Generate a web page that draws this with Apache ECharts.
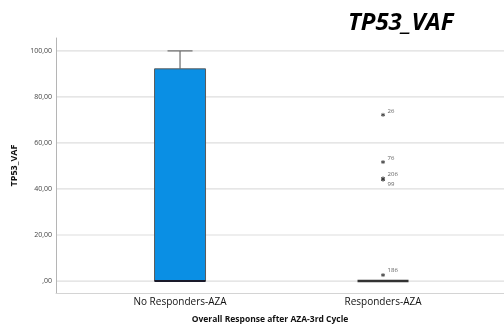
<!DOCTYPE html>
<html>
<head>
<meta charset="utf-8">
<script src="https://cdn.jsdelivr.net/npm/echarts@6/dist/echarts.min.js"></script>
<style>
  html, body { margin: 0; padding: 0; background: #fff; }
  #chart { width: 504px; height: 331px; }
</style>
</head>
<body>
<div id="chart"></div>
<script>
// Groups on the x axis (placed at positions 0 and 1)
var categories = ['No Responders-AZA', 'Responders-AZA'];
// Five-number summaries per group: [min, Q1, median, Q3, max]
var boxMin = [0, 0];
var boxQ1 = [0, 0];
var boxMedian = [0, 0];
var boxQ3 = [92.2, 0];
var boxMax = [100, 0];
// Extreme values for the Responders group, with their case numbers
var outlierGroup = [1, 1, 1, 1, 1];
var outlierValues = [72.2, 51.7, 44.6, 44.0, 2.6];
var outlierIds = ['26', '76', '206', '99', '186'];
// Y axis tick values
var yTicks = [0, 20, 40, 60, 80, 100];

var boxData = categories.map(function (c, i) {
  return [i, boxMin[i], boxQ1[i], boxMedian[i], boxQ3[i], boxMax[i]];
});
var outlierData = outlierValues.map(function (v, i) {
  return [outlierGroup[i], v, outlierIds[i]];
});

function fmtTick(v) {
  var s = v.toFixed(2).replace('.', ',');
  return s.indexOf('0,') === 0 ? s.slice(1) : s;
}

var labelPos = {
  '26': { position: 'right', offset: [-5, -4] },
  '76': { position: 'right', offset: [-5, -4] },
  '206': { position: 'right', offset: [-5, -4] },
  '99': { position: 'right', offset: [-5, 5] },
  '186': { position: 'right', offset: [-5, -5] }
};

var chart = echarts.init(document.getElementById('chart'), null, { renderer: 'canvas' });

chart.setOption({
  animation: false,
  backgroundColor: '#fff',
  title: {
    text: 'TP53_VAF',
    left: 343,
    top: 6,
    textStyle: {
      fontFamily: 'Open Sans',
      fontSize: 24,
      fontWeight: 'bold',
      fontStyle: 'italic',
      color: '#000'
    }
  },
  grid: { left: 56, right: 0, top: 38, bottom: 38 },
  xAxis: {
    type: 'value',
    min: -0.611,
    max: 1.596,
    axisLine: { show: true, onZero: false, lineStyle: { color: '#d4d4d4', width: 1 } },
    axisTick: { show: false },
    splitLine: { show: false },
    axisLabel: {
      customValues: [0, 1],
      formatter: function (v) { return categories[Math.round(v)]; },
      fontFamily: 'Open Sans',
      fontSize: 10,
      color: '#111',
      margin: 4
    }
  },
  yAxis: {
    type: 'value',
    min: -5.2,
    max: 105.6,
    name: 'TP53_VAF',
    nameLocation: 'middle',
    nameGap: 32,
    nameTextStyle: { fontFamily: 'Open Sans', fontSize: 9, fontWeight: 'bold', color: '#111' },
    axisLine: { show: true, onZero: false, lineStyle: { color: '#b5b5b5', width: 1 } },
    axisTick: { show: false, customValues: yTicks },
    splitLine: { show: false },
    axisLabel: {
      customValues: yTicks,
      formatter: fmtTick,
      fontFamily: 'Open Sans',
      fontSize: 7,
      color: '#444',
      margin: 4
    }
  },
  graphic: [{
    type: 'text',
    x: 270,
    y: 315,
    style: {
      text: 'Overall Response after AZA-3rd Cycle',
      font: 'bold 8.5px "Open Sans"',
      fill: '#111',
      align: 'center'
    }
  }],
  series: [
    {
      // horizontal reference lines at each y tick
      type: 'custom',
      silent: true,
      z: 1,
      data: yTicks.map(function (t) { return [t]; }),
      encode: { y: 0 },
      renderItem: function (params, api) {
        var y = api.coord([0, api.value(0)])[1];
        var cs = params.coordSys;
        return {
          type: 'line',
          shape: { x1: cs.x + 1, y1: y, x2: cs.x + cs.width, y2: y },
          style: { stroke: '#dedede', lineWidth: 1.2 }
        };
      }
    },
    {
      type: 'custom',
      z: 3,
      data: boxData,
      encode: { x: 0, y: [1, 2, 3, 4, 5] },
      renderItem: function (params, api) {
        var x = api.value(0);
        var mn = api.value(1), q1 = api.value(2), md = api.value(3), q3 = api.value(4), mx = api.value(5);
        var half = 0.1256, cap = 0.0616;
        var children = [];
        var lineStyle = { stroke: '#6b6b6b', lineWidth: 1.2 };
        if (mx > q3) {
          var a = api.coord([x, q3]), b = api.coord([x, mx]);
          var c1 = api.coord([x - cap, mx]), c2 = api.coord([x + cap, mx]);
          children.push({ type: 'line', shape: { x1: a[0], y1: a[1], x2: b[0], y2: b[1] }, style: lineStyle });
          children.push({ type: 'line', shape: { x1: c1[0], y1: c1[1], x2: c2[0], y2: c2[1] }, style: lineStyle });
        }
        if (mn < q1) {
          var a2 = api.coord([x, q1]), b2 = api.coord([x, mn]);
          var d1 = api.coord([x - cap, mn]), d2 = api.coord([x + cap, mn]);
          children.push({ type: 'line', shape: { x1: a2[0], y1: a2[1], x2: b2[0], y2: b2[1] }, style: lineStyle });
          children.push({ type: 'line', shape: { x1: d1[0], y1: d1[1], x2: d2[0], y2: d2[1] }, style: lineStyle });
        }
        if (q3 > q1) {
          var tl = api.coord([x - half, q3]), br = api.coord([x + half, q1]);
          children.push({
            type: 'rect',
            shape: { x: tl[0], y: tl[1], width: br[0] - tl[0], height: br[1] - tl[1] },
            style: { fill: '#0a8fe4', stroke: '#5a5a5a', lineWidth: 1 }
          });
        }
        var m1 = api.coord([x - half, md]), m2 = api.coord([x + half, md]);
        children.push({
          type: 'line',
          shape: { x1: m1[0], y1: m1[1], x2: m2[0], y2: m2[1] },
          style: { stroke: q3 > q1 ? '#1a1a2a' : '#333', lineWidth: q3 > q1 ? 2 : 2.5 }
        });
        return { type: 'group', children: children };
      }
    },
    {
      type: 'scatter',
      z: 4,
      symbol: 'path://M0,-5L0,5M-4.3,-2.5L4.3,2.5M-4.3,2.5L4.3,-2.5',
      symbolSize: 4,
      itemStyle: { color: 'none', borderColor: '#333', borderWidth: 1 },
      data: outlierData.map(function (d) {
        var lp = labelPos[d[2]];
        return {
          value: d,
          label: {
            show: true,
            position: lp.position,
            offset: lp.offset,
            formatter: function (p) { return p.value[2]; },
            fontFamily: 'Open Sans',
            fontSize: 6,
            color: '#333'
          }
        };
      })
    }
  ]
});
</script>
</body>
</html>
